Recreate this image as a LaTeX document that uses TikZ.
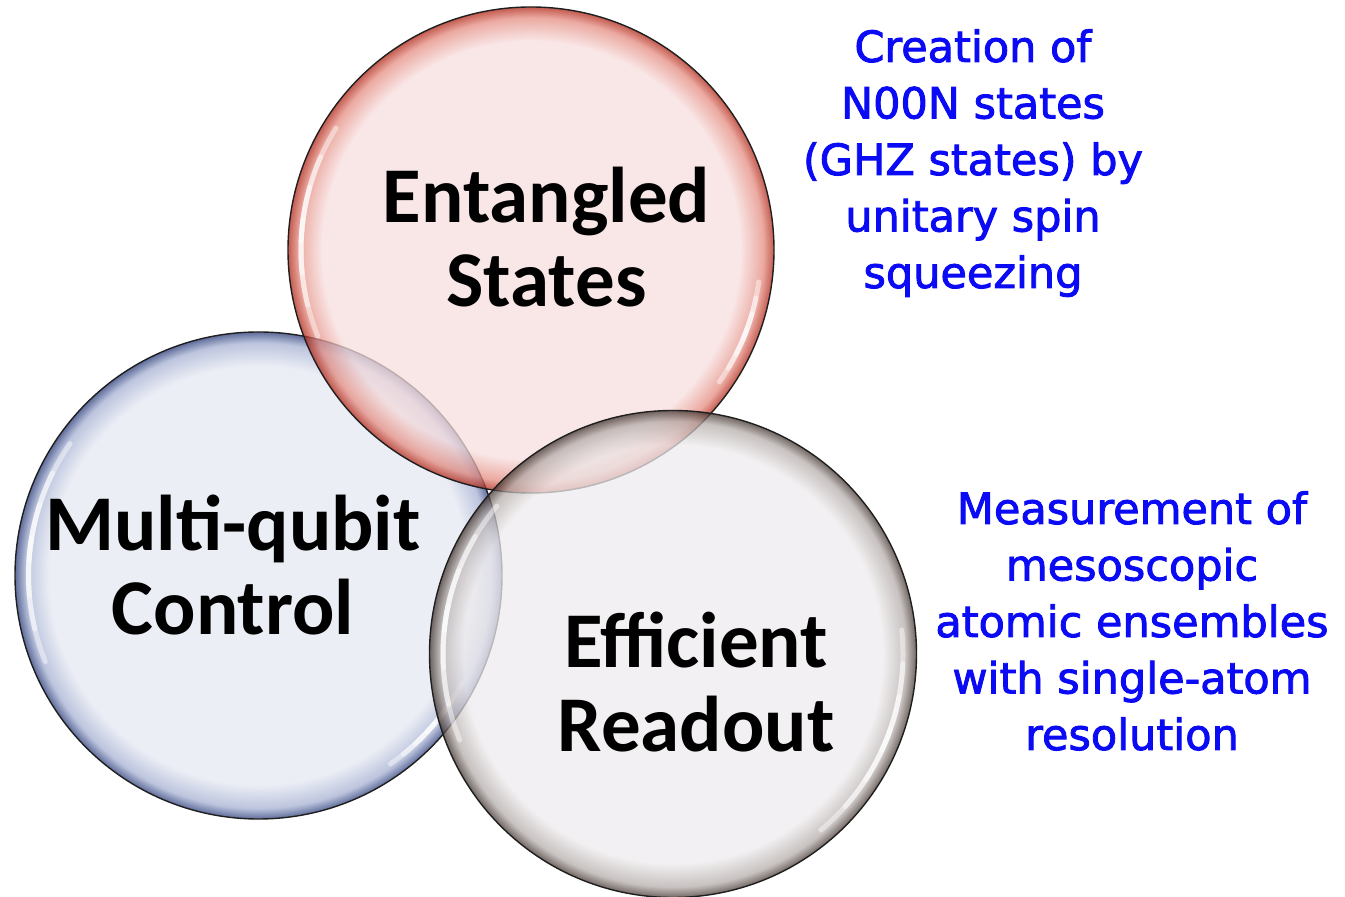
\documentclass[tikz,border=0pt]{standalone}
\usepackage{fontspec}
\setmainfont{Carlito}
\newfontfamily\notefont[FakeBold=2]{DejaVu Sans}

% glass-like disc colours: interior, transition, rim
\definecolor{redIn}{RGB}{247,222,222}
\definecolor{redMid}{RGB}{228,140,128}
\definecolor{redRim}{RGB}{175,35,20}
\definecolor{bluIn}{RGB}{229,232,242}
\definecolor{bluMid}{RGB}{165,176,210}
\definecolor{bluRim}{RGB}{40,58,120}
\definecolor{gryIn}{RGB}{238,235,237}
\definecolor{gryMid}{RGB}{180,172,170}
\definecolor{gryRim}{RGB}{65,52,46}
\definecolor{notecolor}{RGB}{10,10,245}

% 25bp is the rim of the shaded circle
\pgfdeclareradialshading{redglass}{\pgfpointorigin}{%
  color(0bp)=(redIn); color(21.5bp)=(redIn); color(23.9bp)=(redMid);
  color(25bp)=(redRim); color(50bp)=(redRim)}
\pgfdeclareradialshading{bluglass}{\pgfpointorigin}{%
  color(0bp)=(bluIn); color(21.5bp)=(bluIn); color(23.9bp)=(bluMid);
  color(25bp)=(bluRim); color(50bp)=(bluRim)}
\pgfdeclareradialshading{gryglass}{\pgfpointorigin}{%
  color(0bp)=(gryIn); color(21.5bp)=(gryIn); color(23.9bp)=(gryMid);
  color(25bp)=(gryRim); color(50bp)=(gryRim)}

\tikzset{
  disc/.style={fill opacity=0.74},
  rimline/.style={draw=black!88, line width=1.4},
  glintline/.style={draw=white, line width=5, opacity=0.45, line cap=round},
  biglabel/.style={font=\fontsize{79}{84.5}\selectfont\bfseries, align=center,
    inner sep=0, anchor=base},
  note/.style={font=\notefont\fontsize{43}{56.5}\selectfont, text=notecolor,
    align=center, inner sep=0, anchor=base}
}

% soft white reflection along the inside of a rim: centre, radius, from, to
\newcommand\glint[4]{%
  \foreach \f in {0,0.15,0.3,0.45}{%
    \pgfmathsetmacro\ga{#3+\f*(#4-#3)}%
    \pgfmathsetmacro\gb{#4-\f*(#4-#3)}%
    \draw[glintline] (#1) ++(\ga:#2) arc[start angle=\ga, end angle=\gb, radius=#2];
  }%
}

\begin{document}
\begin{tikzpicture}[x=1pt, y=1pt]
  \useasboundingbox (0,0) rectangle (1345,897);

  \coordinate (bc) at (258.5,321.5);
  \coordinate (rc) at (531,647);
  \coordinate (gc) at (673,243);

  % Multi-qubit control disc
  \shade[disc, shading=bluglass] (bc) circle (243.5);
  \glint{bc}{230}{145}{202}
  \glint{bc}{230}{-55}{-28}
  \draw[rimline] (bc) circle (243.5);

  % Entangled states disc
  \shade[disc, shading=redglass] (rc) circle (243);
  \glint{rc}{230}{148}{202}
  \glint{rc}{230}{-35}{-8}
  \draw[rimline] (rc) circle (243);

  % Efficient readout disc
  \shade[disc, shading=gryglass] (gc) circle (243.5);
  \glint{gc}{230}{140}{202}
  \glint{gc}{230}{-50}{6}
  \draw[rimline] (gc) circle (243.5);

  % anchors sit on the baseline of each text's last line
  \node[biglabel] (ent) at (546.5,590) {Entangled\\States};
  \node[biglabel] (mqc) at (233,262) {Multi-qubit\\Control};
  \node[biglabel] (eff) at (696,145) {Efficient\\Readout};

  \node[note] (noon) at (973,609)
    {Creation of\\N00N states\\(GHZ states) by\\unitary spin\\squeezing};
  \node[note] (meas) at (1132,147)
    {Measurement of\\mesoscopic\\atomic ensembles\\with single-atom\\resolution};
\end{tikzpicture}
\end{document}
